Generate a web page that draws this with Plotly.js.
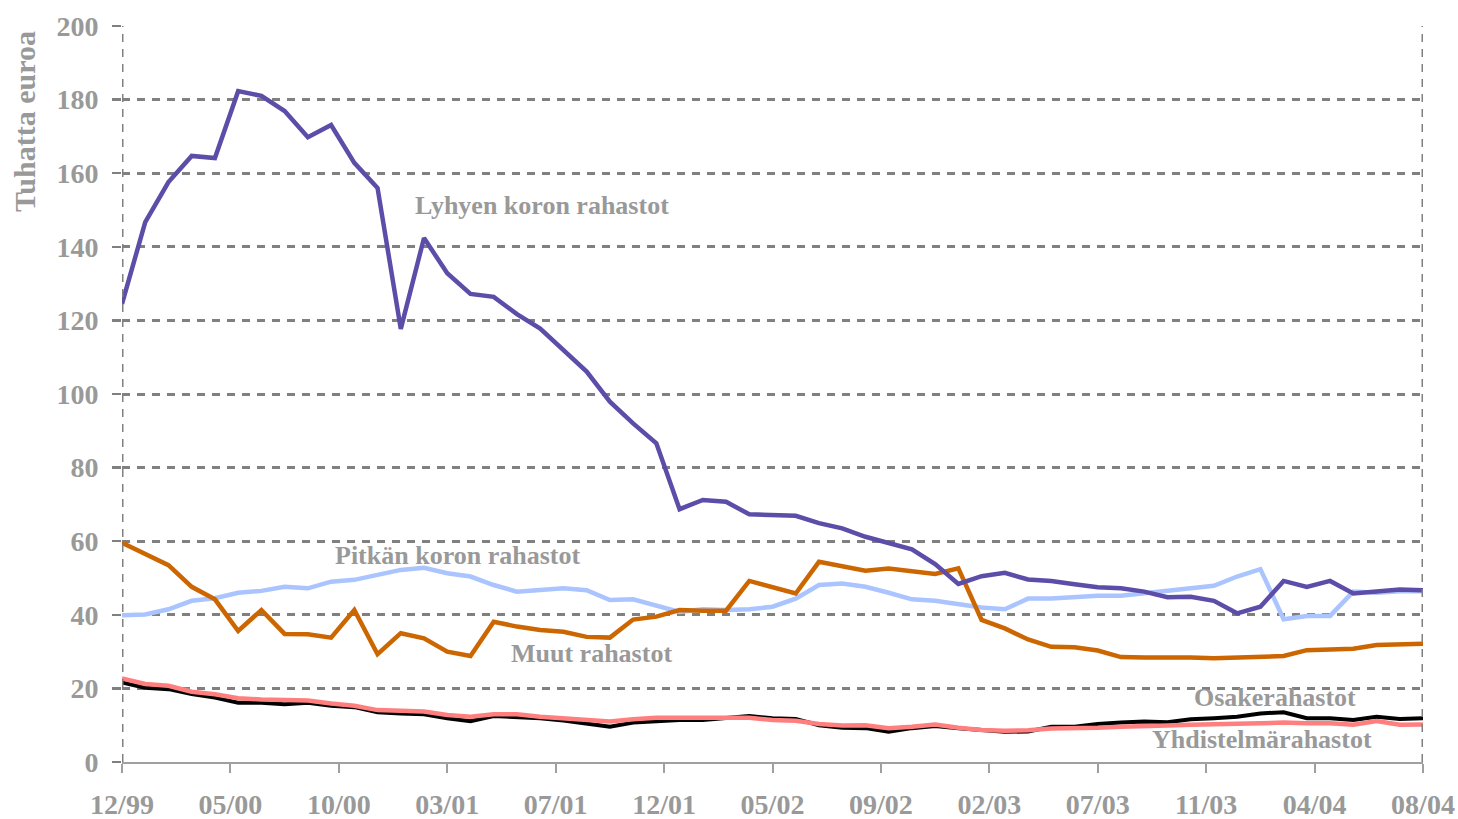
<!DOCTYPE html>
<html>
<head>
<meta charset="utf-8">
<script src="https://cdn.plot.ly/plotly-3.0.1.min.js"></script>
<style>html,body{margin:0;padding:0;background:#fff}#chart{width:1458px;height:819px}</style>
</head>
<body>
<div id="chart"></div>
<script>
const months = ["12/99","01/00","02/00","03/00","04/00","05/00","06/00","07/00","08/00","09/00","10/00","11/00","12/00",
"01/01","02/01","03/01","04/01","05/01","06/01","07/01","08/01","09/01","10/01","11/01","12/01",
"01/02","02/02","03/02","04/02","05/02","06/02","07/02","08/02","09/02","10/02","11/02","12/02",
"01/03","02/03","03/03","04/03","05/03","06/03","07/03","08/03","09/03","10/03","11/03","12/03",
"01/04","02/04","03/04","04/04","05/04","06/04","07/04","08/04"];

const tickLabels = ["12/99","05/00","10/00","03/01","07/01","12/01","05/02","09/02","02/03","07/03","11/03","04/04","08/04"];

const lyhyen = [124.5,146.7,157.6,164.7,164.1,182.3,181.0,176.9,169.8,173.1,162.8,156.0,117.7,
142.4,132.8,127.2,126.4,121.7,117.8,112.0,106.1,97.9,92.0,86.6,68.7,
71.2,70.7,67.3,67.1,66.9,64.9,63.5,61.2,59.4,57.8,53.8,48.4,
50.5,51.4,49.6,49.2,48.3,47.5,47.2,46.3,44.8,44.9,43.8,40.4,
42.2,49.2,47.6,49.2,45.8,46.2,46.9,46.7];

const pitkan = [39.9,40.1,41.5,43.8,44.5,46.0,46.5,47.6,47.2,49.0,49.5,51.0,52.2,
52.8,51.3,50.4,48.1,46.3,46.7,47.2,46.7,44.0,44.2,42.4,40.8,
41.5,41.3,41.5,42.2,44.4,48.1,48.5,47.6,46.0,44.2,43.8,42.8,
42.0,41.5,44.4,44.4,44.9,45.2,45.2,45.8,46.7,47.0,47.9,50.4,
52.4,38.8,39.7,39.7,46.3,46.0,46.4,46.4];

const muut = [59.6,56.7,53.5,47.6,44.2,35.6,41.3,34.8,34.7,33.8,41.3,29.3,35.0,
33.6,30.0,28.8,38.1,36.8,35.9,35.4,34.0,33.8,38.7,39.5,41.3,
41.1,41.1,49.2,47.4,45.8,54.4,53.1,52.0,52.6,51.7,51.1,52.6,
38.6,36.3,33.3,31.3,31.2,30.3,28.5,28.4,28.5,28.4,28.2,28.5,
28.6,28.8,30.4,30.6,30.8,31.8,31.8,32.1];

const osake = [21.6,20.2,19.8,18.5,17.5,16.1,16.1,15.7,16.1,15.3,14.9,13.5,13.2,
13.0,11.9,11.1,12.5,12.3,11.9,11.3,10.5,9.6,10.7,11.1,11.4,
11.4,11.9,12.5,11.9,11.7,10.0,9.3,9.2,8.2,9.2,9.8,9.2,
8.6,8.2,8.3,9.6,9.6,10.3,10.7,11.0,10.8,11.6,11.9,12.3,
13.2,13.5,11.9,11.9,11.4,12.3,11.7,11.9];

const yhdistelma = [22.7,21.2,20.7,19.1,18.4,17.3,17.0,16.8,16.7,15.9,15.3,14.1,13.9,
13.7,12.8,12.3,13.0,13.0,12.3,11.8,11.4,11.0,11.6,12.0,12.0,
12.0,12.0,12.0,11.4,11.2,10.3,9.9,10.0,9.2,9.6,10.2,9.3,
8.7,8.5,8.6,9.1,9.1,9.3,9.6,9.9,9.9,10.1,10.2,10.5,
10.7,10.7,10.5,10.5,10.1,11.1,10.1,10.2];

const xIdx = months.map((m, i) => i);
const n = months.length - 1;
const tickVals = tickLabels.map((t, k) => k * n / (tickLabels.length - 1));

const gray = '#999999';
const gridGray = '#808080';
const serif = 'Liberation Serif, Times New Roman, serif';

function tr(y, color, width, name) {
  return {x: xIdx, y: y, type: 'scatter', mode: 'lines', name: name,
    line: {color: color, width: width}, hoverinfo: 'skip'};
}

const data = [
  tr(pitkan, '#AAC4FF', 4.5, 'Pitkän koron rahastot'),
  tr(osake, '#000000', 4, 'Osakerahastot'),
  tr(yhdistelma, '#FF7F7F', 4.5, 'Yhdistelmärahastot'),
  tr(muut, '#CC6600', 4.5, 'Muut rahastot'),
  tr(lyhyen, '#5B4DA8', 4.5, 'Lyhyen koron rahastot')
];

function lab(text, x, y) {
  return {text: '<b>' + text + '</b>', x: x, y: y, xref: 'x', yref: 'y', showarrow: false,
    font: {family: serif, size: 26, color: gray}, xanchor: 'center', yanchor: 'middle'};
}

const layout = {
  width: 1458, height: 819,
  margin: {l: 122, r: 35, t: 26, b: 57},
  paper_bgcolor: '#ffffff', plot_bgcolor: '#ffffff',
  showlegend: false,
  xaxis: {
    type: 'linear', range: [0, n], tickmode: 'array', tickvals: tickVals, ticktext: tickLabels,
    showgrid: false, zeroline: false, showline: true, linecolor: '#a0a0a0', linewidth: 2,
    ticks: 'outside', ticklen: 9, tickwidth: 2, tickcolor: '#a0a0a0',
    tickfont: {family: serif, size: 28, color: gray, weight: 'bold'}, ticklabelstandoff: 7
  },
  yaxis: {
    range: [0, 200], dtick: 20, tick0: 0,
    showgrid: true, gridcolor: gridGray, gridwidth: 3, griddash: '8px,7px',
    zeroline: false, showline: false,
    ticks: 'outside', ticklen: 9, tickwidth: 2.5, tickcolor: gridGray,
    tickfont: {family: serif, size: 28, color: gray, weight: 'bold'}, ticklabelstandoff: 8
  },
  shapes: [
    {type: 'line', xref: 'x', yref: 'paper', x0: 0, x1: 0, y0: 0, y1: 1,
      line: {color: gridGray, width: 3, dash: '8px,7px'}},
    {type: 'line', xref: 'x', yref: 'paper', x0: n, x1: n, y0: 0, y1: 1,
      line: {color: gridGray, width: 3, dash: '8px,7px'}}
  ],
  annotations: [
    lab('Lyhyen koron rahastot', 18.08, 151.1),
    lab('Pitkän koron rahastot', 14.42, 56.25),
    lab('Muut rahastot', 20.23, 29.35),
    lab('Osakerahastot', 49.63, 17.66),
    lab('Yhdistelmärahastot', 49.07, 5.98),
    {text: '<b>Tuhatta euroa</b>', xref: 'paper', yref: 'paper', x: -0.0746, y: 0.871,
      textangle: -90, showarrow: false, xanchor: 'center', yanchor: 'middle',
      font: {family: serif, size: 30, color: gray}}
  ]
};

Plotly.newPlot('chart', data, layout, {displayModeBar: false, staticPlot: true});
</script>
</body>
</html>
